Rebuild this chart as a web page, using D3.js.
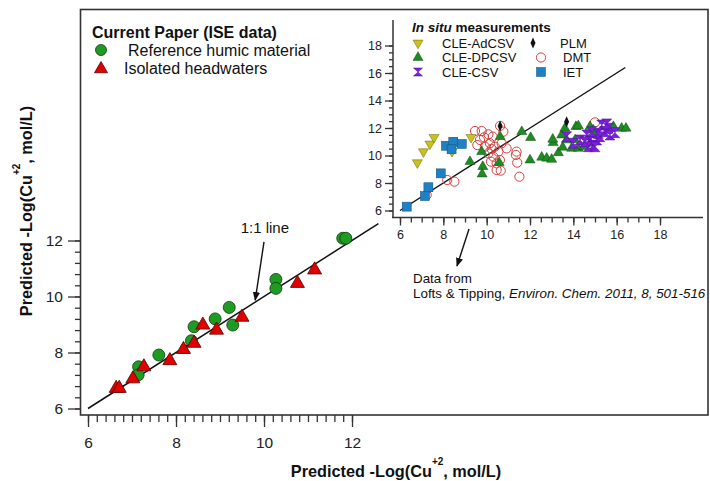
<!DOCTYPE html>
<html><head><meta charset="utf-8">
<script src="https://cdn.jsdelivr.net/npm/d3@7"></script>
<style>
body{margin:0;background:#fff;}
svg{font-family:"Liberation Sans",Arial,sans-serif;}
</style></head>
<body><svg id="c" width="710" height="481"></svg>
<script>
// ---------- data ----------
const mainTicks = [6, 8, 10, 12];
const insetTicks = [6, 8, 10, 12, 14, 16, 18];
const refHumic = [[11.79,12.08],[11.86,12.08],[10.27,10.61],[10.27,10.29],[9.21,9.61],[9.29,8.98],[8.89,9.20],[8.41,8.92],[8.35,8.42],[7.61,7.91],[7.15,7.49],[7.14,7.20]];
const headwaters = [[6.64,6.72],[6.71,6.72],[7.02,7.06],[7.27,7.49],[7.86,7.71],[8.17,8.11],[8.41,8.33],[8.61,8.98],[8.92,8.80],[9.50,9.26],[10.76,10.47],[11.15,10.95]];
const cleAdCSV = [[6.80,9.48],[7.08,10.28],[7.38,10.84],[7.57,11.32],[9.28,11.32],[8.40,10.30]];
const iet = [[6.31,6.28],[7.15,7.05],[7.31,7.69],[7.88,8.70],[8.12,10.71],[8.46,11.00],[8.38,10.45],[8.85,10.84]];
const dmt = [[7.23,7.13],[8.18,8.22],[8.51,8.10],[9.46,11.78],[9.77,11.78],[9.57,10.76],[9.92,10.64],[10.08,11.54],[10.28,11.37],[10.15,10.89],[10.38,10.64],[10.08,10.16],[10.31,9.91],[10.20,9.55],[10.54,10.28],[10.61,9.67],[10.92,10.52],[10.69,10.89],[10.46,8.95],[10.65,8.90],[11.38,10.28],[11.35,10.04],[11.41,9.48],[11.51,8.46],[15.00,12.41],[10.77,11.73],[10.46,9.43],[10.23,10.47],[9.69,11.13],[9.88,11.32],[10.62,12.15]];
const cleDPCSV = [[10.62,11.37],[11.62,11.73],[12.03,11.30],[9.23,9.55],[9.77,10.28],[9.82,9.19],[9.79,8.65],[10.58,9.48],[12.00,9.67],[12.54,9.87],[12.77,9.80],[13.00,9.72],[13.07,10.93],[13.05,11.18],[13.31,10.20],[13.51,10.60],[13.46,11.49],[13.61,11.98],[14.12,12.10],[14.23,12.15],[13.92,10.52],[14.23,10.52],[14.49,10.64],[14.77,12.10],[14.92,11.85],[15.85,12.10],[16.23,11.98],[16.43,11.98],[13.69,11.13],[14.08,11.13],[15.00,11.49],[14.77,10.89]];
const cleCSV = [[13.69,11.37],[14.00,10.89],[14.31,11.13],[14.62,11.49],[14.77,11.13],[14.92,10.76],[14.69,10.64],[15.08,11.13],[15.15,11.61],[15.31,12.22],[15.46,11.73],[15.62,11.98],[15.69,11.49],[15.92,11.66],[15.23,11.37],[14.85,11.73],[15.00,10.64],[14.54,11.00],[15.54,12.30]];
const plm = [[10.62,12.15],[13.69,12.46]];
const oneToOneMain = [6, 12.6];
const oneToOneInset = [6, 16.4];

// ---------- setup ----------
const svg = d3.select("#c");
const FONT = '"Liberation Sans",Arial,sans-serif';

// main scales
const x = d3.scaleLinear().domain([6, 12]).range([88, 352]);
const y = d3.scaleLinear().domain([6, 12]).range([408.5, 240.5]);

// frame
svg.append("rect").attr("x", 80.5).attr("y", 9.5).attr("width", 627.5).attr("height", 405.5)
  .attr("fill", "none").attr("stroke", "#333").attr("stroke-width", 1.6);

function styleAxis(g, fs) {
  g.select(".domain").remove();
  g.selectAll("line").attr("stroke", "#333").attr("stroke-width", 1.3);
  g.selectAll("text").attr("font-family", FONT).attr("font-size", fs).attr("fill", "#222");
}

// main x axis
const minorX = d3.range(6, 12.001, 0.2).map(v => +v.toFixed(2));
svg.append("g").attr("transform", "translate(0,415)")
  .call(d3.axisBottom(x).tickValues(minorX).tickSize(7).tickFormat(""))
  .call(g => styleAxis(g, 15));
svg.append("g").attr("transform", "translate(0,415)")
  .call(d3.axisBottom(x).tickValues(mainTicks).tickSize(12).tickPadding(10).tickFormat(d3.format("d")))
  .call(g => styleAxis(g, 15.5));

// main y axis
const minorY = d3.range(6, 12.001, 0.4).map(v => +v.toFixed(2));
svg.append("g").attr("transform", "translate(81,0)")
  .call(d3.axisLeft(y).tickValues(minorY).tickSize(6).tickFormat(""))
  .call(g => styleAxis(g, 15));
svg.append("g").attr("transform", "translate(81,0)")
  .call(d3.axisLeft(y).tickValues(mainTicks).tickSize(13).tickPadding(5).tickFormat(d3.format("d")))
  .call(g => styleAxis(g, 15.5));

// axis titles
const xt = svg.append("text").attr("x", 396).attr("y", 477).attr("text-anchor", "middle")
  .attr("font-family", FONT).attr("font-size", 16.3).attr("font-weight", "bold").attr("fill", "#111");
xt.append("tspan").text("Predicted -Log(Cu");
xt.append("tspan").attr("dy", -12).attr("font-size", 10).text("+2");
xt.append("tspan").attr("dy", 12).text(", mol/L)");

const yt = svg.append("text").attr("transform", "translate(32,211) rotate(-90)").attr("text-anchor", "middle")
  .attr("font-family", FONT).attr("font-size", 16.3).attr("font-weight", "bold").attr("fill", "#111");
yt.append("tspan").text("Predicted -Log(Cu");
yt.append("tspan").attr("dy", -12).attr("font-size", 10).text("+2");
yt.append("tspan").attr("dy", 12).text(", mol/L)");

// main 1:1 line
svg.append("line").attr("x1", x(oneToOneMain[0])).attr("y1", y(oneToOneMain[0]))
  .attr("x2", x(oneToOneMain[1])).attr("y2", y(oneToOneMain[1])).attr("stroke", "#111").attr("stroke-width", 1.5);

function triPath(s, down) { // equilateral triangle with side s
  const h = s * Math.sqrt(3) / 2;
  return down ? `M${-s/2},${-h/3}L${s/2},${-h/3}L0,${2*h/3}Z` : `M${-s/2},${h/3}L${s/2},${h/3}L0,${-2*h/3}Z`;
}
function hourglass(w, h) { return `M${-w/2},${-h/2}L${w/2},${-h/2}L0,0L${w/2},${h/2}L${-w/2},${h/2}L0,0Z`; }
function diamond(w, h) { return `M0,${-h/2}L${w/2},0L0,${h/2}L${-w/2},0Z`; }

// main points
svg.append("g").selectAll("circle").data(refHumic).join("circle")
  .attr("cx", d => x(d[0])).attr("cy", d => y(d[1])).attr("r", 6)
  .attr("fill", "#1f9a22").attr("stroke", "#0c3d0c").attr("stroke-width", 0.8);
svg.append("g").selectAll("path").data(headwaters).join("path")
  .attr("transform", d => `translate(${x(d[0])},${y(d[1])})`).attr("d", triPath(14, false))
  .attr("fill", "#e00000").attr("stroke", "#5a0000").attr("stroke-width", 0.8);

// arrowheads
const defs = svg.append("defs");
defs.append("marker").attr("id", "ah").attr("viewBox", "0 0 10 10").attr("refX", 9).attr("refY", 5)
  .attr("markerWidth", 9).attr("markerHeight", 9).attr("markerUnits", "userSpaceOnUse").attr("orient", "auto")
  .append("path").attr("d", "M0,1L10,5L0,9Z").attr("fill", "#111");

// 1:1 annotation
svg.append("text").attr("x", x(10.02)).attr("y", y(12.45) + 5).attr("text-anchor", "middle")
  .attr("font-family", FONT).attr("font-size", 15).attr("fill", "#111").text("1:1 line");
svg.append("line").attr("x1", x(10.0)).attr("y1", y(11.95)).attr("x2", x(9.8)).attr("y2", y(9.87))
  .attr("stroke", "#111").attr("stroke-width", 1.4).attr("marker-end", "url(#ah)");

// main legend
const lg = svg.append("g").attr("font-family", FONT).attr("fill", "#111");
lg.append("text").attr("x", 92).attr("y", 38).attr("font-size", 16).attr("font-weight", "bold").text("Current Paper (ISE data)");
lg.append("circle").attr("cx", 101).attr("cy", 50).attr("r", 5.5).attr("fill", "#1f9a22").attr("stroke", "#0c3d0c").attr("stroke-width", 0.8);
lg.append("text").attr("x", 128).attr("y", 55.5).attr("font-size", 16).text("Reference humic material");
lg.append("path").attr("transform", "translate(101,69)").attr("d", triPath(13, false)).attr("fill", "#e00000").attr("stroke", "#5a0000").attr("stroke-width", 0.8);
lg.append("text").attr("x", 124).attr("y", 73.5).attr("font-size", 16).text("Isolated headwaters");

// ---------- inset ----------
const xi = d3.scaleLinear().domain([6, 18]).range([400, 660]);
const yi = d3.scaleLinear().domain([6, 18]).range([210.5, 45.5]);

svg.append("line").attr("x1", 393).attr("x2", 393).attr("y1", 20).attr("y2", 217.5).attr("stroke", "#333").attr("stroke-width", 1.5);
svg.append("line").attr("x1", 392).attr("x2", 703).attr("y1", 217.5).attr("y2", 217.5).attr("stroke", "#333").attr("stroke-width", 1.5);

const minorXi = d3.range(6, 18.001, 0.5);
svg.append("g").attr("transform", "translate(0,217.5)")
  .call(d3.axisBottom(xi).tickValues(minorXi).tickSize(5).tickFormat(""))
  .call(g => styleAxis(g, 12.5));
svg.append("g").attr("transform", "translate(0,217.5)")
  .call(d3.axisBottom(xi).tickValues(insetTicks).tickSize(8).tickPadding(5).tickFormat(d3.format("d")))
  .call(g => styleAxis(g, 12.5));
const minorYi = d3.range(6, 18.001, 0.5);
svg.append("g").attr("transform", "translate(393,0)")
  .call(d3.axisLeft(yi).tickValues(minorYi).tickSize(4).tickFormat(""))
  .call(g => styleAxis(g, 12.5));
svg.append("g").attr("transform", "translate(393,0)")
  .call(d3.axisLeft(yi).tickValues(insetTicks).tickSize(8).tickPadding(3).tickFormat(d3.format("d")))
  .call(g => styleAxis(g, 12.5));

// inset 1:1 line
svg.append("line").attr("x1", xi(oneToOneInset[0])).attr("y1", yi(oneToOneInset[0]))
  .attr("x2", xi(oneToOneInset[1])).attr("y2", yi(oneToOneInset[1])).attr("stroke", "#111").attr("stroke-width", 1.4);

const C = {
  yel: ["#c9c21c", "#6b6610"], grn: ["#1e8c22", "#0d4d0d"], pur: ["#7a1fe0", "#4a0f90"],
  blu: ["#1f80c4", "#0f4e80"], red: "#d8403f"
};
const ig = svg.append("g");
ig.selectAll(".dmt").data(dmt).join("circle").attr("class", "dmt")
  .attr("cx", d => xi(d[0])).attr("cy", d => yi(d[1])).attr("r", 4.6)
  .attr("fill", "none").attr("stroke", C.red).attr("stroke-width", 1);
ig.selectAll(".dp").data(cleDPCSV).join("path").attr("class", "dp")
  .attr("transform", d => `translate(${xi(d[0])},${yi(d[1])})`).attr("d", triPath(10, false))
  .attr("fill", C.grn[0]).attr("stroke", C.grn[1]).attr("stroke-width", 0.5);
ig.selectAll(".ad").data(cleAdCSV).join("path").attr("class", "ad")
  .attr("transform", d => `translate(${xi(d[0])},${yi(d[1])})`).attr("d", triPath(10, true))
  .attr("fill", C.yel[0]).attr("stroke", C.yel[1]).attr("stroke-width", 0.5);
ig.selectAll(".iet").data(iet).join("rect").attr("class", "iet")
  .attr("x", d => xi(d[0]) - 4.5).attr("y", d => yi(d[1]) - 4.5).attr("width", 9).attr("height", 9)
  .attr("fill", C.blu[0]).attr("stroke", C.blu[1]).attr("stroke-width", 0.5);
ig.selectAll(".csv").data(cleCSV).join("path").attr("class", "csv")
  .attr("transform", d => `translate(${xi(d[0])},${yi(d[1])})`).attr("d", hourglass(10, 10))
  .attr("fill", C.pur[0]).attr("stroke", C.pur[1]).attr("stroke-width", 0.5);
ig.selectAll(".plm").data(plm).join("path").attr("class", "plm")
  .attr("transform", d => `translate(${xi(d[0])},${yi(d[1])})`).attr("d", diamond(5, 11))
  .attr("fill", "#111");

// inset legend
const il = svg.append("g").attr("font-family", FONT).attr("fill", "#111");
const ttl = il.append("text").attr("x", 412).attr("y", 32).attr("font-size", 13.5).attr("font-weight", "bold");
ttl.append("tspan").attr("font-style", "italic").text("In situ");
ttl.append("tspan").text("  measurements");
const legRows = [
  {lbl: "CLE-AdCSV", x: 418, tx: 442, y: 43},
  {lbl: "CLE-DPCSV", x: 418, tx: 442, y: 57.5},
  {lbl: "CLE-CSV", x: 418, tx: 442, y: 72},
  {lbl: "PLM", x: 533, tx: 560, y: 43},
  {lbl: "DMT", x: 541, tx: 563, y: 57.5},
  {lbl: "IET", x: 541, tx: 563, y: 72}
];
legRows.forEach(r => il.append("text").attr("x", r.tx).attr("y", r.y + 4.5).attr("font-size", 13).text(r.lbl));
il.append("path").attr("transform", `translate(${legRows[0].x},${legRows[0].y})`).attr("d", triPath(10, true)).attr("fill", C.yel[0]).attr("stroke", C.yel[1]).attr("stroke-width", 0.5);
il.append("path").attr("transform", `translate(${legRows[1].x},${legRows[1].y})`).attr("d", triPath(10, false)).attr("fill", C.grn[0]).attr("stroke", C.grn[1]).attr("stroke-width", 0.5);
il.append("path").attr("transform", `translate(${legRows[2].x},${legRows[2].y})`).attr("d", hourglass(9, 8)).attr("fill", C.pur[0]).attr("stroke", C.pur[1]).attr("stroke-width", 0.5);
il.append("path").attr("transform", `translate(${legRows[3].x},${legRows[3].y})`).attr("d", diamond(5, 11)).attr("fill", "#111");
il.append("circle").attr("cx", legRows[4].x).attr("cy", legRows[4].y).attr("r", 4.6).attr("fill", "none").attr("stroke", C.red).attr("stroke-width", 1);
il.append("rect").attr("x", legRows[5].x - 4.5).attr("y", legRows[5].y - 4.5).attr("width", 9).attr("height", 9).attr("fill", C.blu[0]).attr("stroke", C.blu[1]).attr("stroke-width", 0.5);

// data-source annotation
svg.append("line").attr("x1", 469).attr("y1", 229).attr("x2", 457).attr("y2", 266)
  .attr("stroke", "#111").attr("stroke-width", 1.4).attr("marker-end", "url(#ah)");
const src = svg.append("g").attr("font-family", FONT).attr("font-size", 13.4).attr("fill", "#111");
src.append("text").attr("x", 413).attr("y", 283).text("Data from");
const s2 = src.append("text").attr("x", 413).attr("y", 298);
s2.append("tspan").text("Lofts & Tipping, ");
s2.append("tspan").attr("font-style", "italic").text("Environ. Chem. 2011, 8, 501-516");
</script></body></html>
